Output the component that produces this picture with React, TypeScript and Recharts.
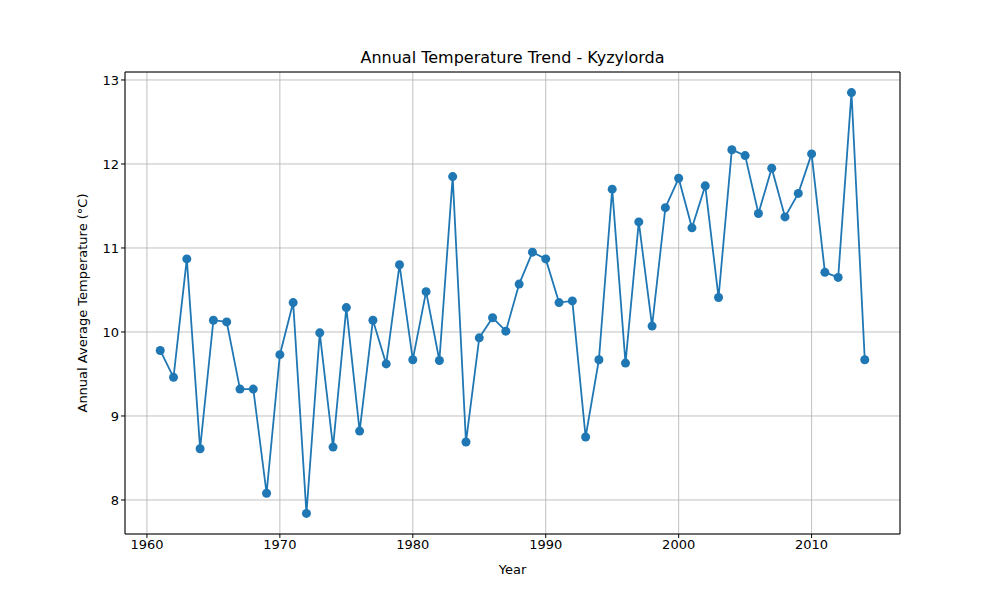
import React from 'react';
import { LineChart, Line, XAxis, YAxis, CartesianGrid, ReferenceArea, Label } from 'recharts';

const years = [
  1961, 1962, 1963, 1964, 1965, 1966, 1967, 1968, 1969, 1970,
  1971, 1972, 1973, 1974, 1975, 1976, 1977, 1978, 1979, 1980,
  1981, 1982, 1983, 1984, 1985, 1986, 1987, 1988, 1989, 1990,
  1991, 1992, 1993, 1994, 1995, 1996, 1997, 1998, 1999, 2000,
  2001, 2002, 2003, 2004, 2005, 2006, 2007, 2008, 2009, 2010,
  2011, 2012, 2013, 2014,
];
const temps = [
  9.78, 9.46, 10.87, 8.61, 10.14, 10.12, 9.32, 9.32, 8.08, 9.73,
  10.35, 7.84, 9.99, 8.63, 10.29, 8.82, 10.14, 9.62, 10.8, 9.67,
  10.48, 9.66, 11.85, 8.69, 9.93, 10.17, 10.01, 10.57, 10.95, 10.87,
  10.35, 10.37, 8.75, 9.67, 11.7, 9.63, 11.31, 10.07, 11.48, 11.83,
  11.24, 11.74, 10.41, 12.17, 12.1, 11.41, 11.95, 11.37, 11.65, 12.12,
  10.71, 10.65, 12.85, 9.67,
];
const xTicks = [1960, 1970, 1980, 1990, 2000, 2010];
const yTicks = [8, 9, 10, 11, 12, 13];

const data = years.map((year, i) => ({ year, temp: temps[i] }));

const X_DOMAIN: [number, number] = [1958.35, 2016.65];
const Y_DOMAIN: [number, number] = [7.595, 13.095];
const tick = { fontFamily: 'DejaVu Sans', fontSize: 13, fill: '#000' };

export default function App() {
  return (
    <div style={{ margin: -8, width: 1000, height: 600, background: '#fff', position: 'relative' }}>
      <div style={{
        position: 'absolute', top: 48, width: 1025, textAlign: 'center',
        fontFamily: 'DejaVu Sans', fontSize: 16,
      }}>
        Annual Temperature Trend - Kyzylorda
      </div>
      <LineChart width={1000} height={600} data={data}
        margin={{ top: 72, right: 100, bottom: 26, left: 65 }}>
        <CartesianGrid stroke="#b0b0b0" strokeWidth={0.8} />
        <XAxis dataKey="year" type="number" domain={X_DOMAIN} ticks={xTicks}
          allowDataOverflow tick={tick} tickLine={{ stroke: '#000' }} tickSize={4}
          axisLine={false} height={40}>
          <Label value="Year" position="insideBottom" offset={0} style={tick} />
        </XAxis>
        <YAxis type="number" domain={Y_DOMAIN} ticks={yTicks} allowDataOverflow
          tick={tick} tickLine={{ stroke: '#000' }} tickSize={4} axisLine={false} width={60}>
          <Label value="Annual Average Temperature (°C)" angle={-90} position="insideLeft"
            offset={17} style={{ ...tick, textAnchor: 'middle' }} />
        </YAxis>
        <ReferenceArea x1={X_DOMAIN[0]} x2={X_DOMAIN[1]} y1={Y_DOMAIN[0]} y2={Y_DOMAIN[1]}
          fill="none" stroke="#000" strokeWidth={1} fillOpacity={0} />
        <Line dataKey="temp" stroke="#1f77b4" strokeWidth={1.8} isAnimationActive={false}
          dot={{ r: 4.5, fill: '#1f77b4', stroke: '#1f77b4', strokeWidth: 0 }} activeDot={false} />
      </LineChart>
    </div>
  );
}
